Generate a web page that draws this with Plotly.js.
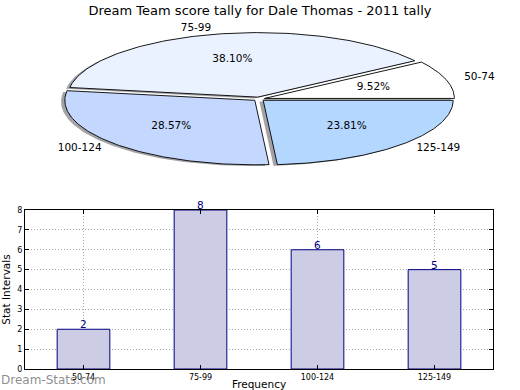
<!DOCTYPE html>
<html><head><meta charset="utf-8">
<script src="https://cdn.plot.ly/plotly-3.0.1.min.js"></script>
<style>html,body{margin:0;padding:0;background:#fff}#chart{width:520px;height:390px}</style>
</head><body><div id="chart"></div>
<script>
const categories = ["50-74", "75-99", "100-124", "125-149"];
const counts = [2, 8, 6, 5];
const sliceColors = ["#ffffff", "#ebf2ff", "#c4d8ff", "#b4d7ff"];
const titleText = "Dream Team score tally for Dale Thomas - 2011 tally";

const total = counts.reduce((a, b) => a + b, 0);
const explode = 0.03;
const traces = [];
const shadowTraces = [];
const sliceTraces = [];
const lblX = [], lblY = [], lblPos = [], pctX = [], pctY = [], pctT = [];
let start = 0;
counts.forEach((c, i) => {
  const frac = c / total;
  const a1 = start * 2 * Math.PI, a2 = (start + frac) * 2 * Math.PI;
  const mid = (a1 + a2) / 2;
  const ox = explode * Math.cos(mid), oy = explode * Math.sin(mid);
  const xs = [ox], ys = [oy];
  const n = 120;
  for (let k = 0; k <= n; k++) {
    const a = a1 + (a2 - a1) * k / n;
    xs.push(ox + Math.cos(a)); ys.push(oy + Math.sin(a));
  }
  xs.push(ox); ys.push(oy);
  shadowTraces.push({type: 'scatter', mode: 'lines', x: xs.map(v => v - 0.02), y: ys.map(v => v - 0.02),
    fill: 'toself', fillcolor: 'rgba(70,70,80,0.5)', line: {width: 0}, xaxis: 'x2', yaxis: 'y2', hoverinfo: 'skip'});
  sliceTraces.push({type: 'scatter', mode: 'lines', x: xs, y: ys, fill: 'toself', fillcolor: sliceColors[i],
    line: {color: '#000', width: 0.9}, xaxis: 'x2', yaxis: 'y2', hoverinfo: 'skip'});
  lblX.push(ox + 1.1 * Math.cos(mid)); lblY.push(oy + 1.1 * Math.sin(mid));
  lblPos.push(Math.cos(mid) < 0 ? 'middle left' : 'middle right');
  pctX.push(ox + 0.6 * Math.cos(mid)); pctY.push(oy + 0.6 * Math.sin(mid));
  pctT.push((frac * 100).toFixed(2) + '%');
  start += frac;
});
traces.push(...shadowTraces, ...sliceTraces);
traces.push({type: 'scatter', mode: 'text', x: lblX, y: lblY, text: categories, textposition: lblPos,
  textfont: {size: 10.5, color: '#000'}, xaxis: 'x2', yaxis: 'y2', hoverinfo: 'skip', cliponaxis: false});
traces.push({type: 'scatter', mode: 'text', x: pctX, y: pctY, text: pctT, textposition: 'middle center',
  textfont: {size: 10.5, color: '#000'}, xaxis: 'x2', yaxis: 'y2', hoverinfo: 'skip', cliponaxis: false});

traces.push({type: 'bar', x: categories, y: counts, width: 0.45,
  marker: {color: '#ccccE5', line: {color: '#000080', width: 1}},
  hoverinfo: 'skip'});

const valueAnnotations = categories.map((c, i) => ({
  text: String(counts[i]), xref: 'x', yref: 'y', x: c, y: counts[i], xanchor: 'center', yanchor: 'bottom',
  yshift: -3, showarrow: false, font: {size: 10.5, color: '#000080'}
}));

const cx = 259, cy = 99, rx = 190, ry = 64.5;
const dotted = '1px,2px';
const layout = {
  width: 520, height: 390, margin: {l: 0, r: 0, t: 0, b: 0},
  paper_bgcolor: '#fff', plot_bgcolor: 'rgba(0,0,0,0)', showlegend: false,
  font: {family: 'DejaVu Sans', color: '#000'},
  title: {text: titleText, x: 0.5, xanchor: 'center', y: 1 - 10 / 390, yanchor: 'middle', font: {size: 13, color: '#000'}},
  xaxis2: {domain: [0, 1], anchor: 'y2', range: [(0 - cx) / rx, (520 - cx) / rx], visible: false, fixedrange: true},
  yaxis2: {domain: [0.5, 1], anchor: 'x2', range: [(cy - 195) / ry, cy / ry], visible: false, fixedrange: true},
  xaxis: {domain: [25 / 520, 493 / 520], anchor: 'y', type: 'category', range: [-0.5, 3.5],
    showline: true, linecolor: '#000', linewidth: 1, mirror: 'ticks', ticks: 'inside', ticklen: 4, tickcolor: '#000',
    showgrid: true, gridcolor: '#a8a8a8', griddash: dotted, gridwidth: 1, tickfont: {size: 8},
    title: {text: 'Frequency', font: {size: 10.5}, standoff: 14}, automargin: false},
  yaxis: {domain: [(390 - 369) / 390, 180 / 390], anchor: 'x', range: [0, 8], dtick: 1,
    showline: true, linecolor: '#000', linewidth: 1, mirror: 'ticks', ticks: 'inside', ticklen: 4, tickcolor: '#000',
    showgrid: true, gridcolor: '#a8a8a8', griddash: dotted, gridwidth: 1, tickfont: {size: 8}, zeroline: false,
    title: {text: 'Stat Intervals', font: {size: 10.5}, standoff: 6}, automargin: false},
  annotations: valueAnnotations.concat([{text: 'Dream-Stats.com', xref: 'paper', yref: 'paper', x: -0.002, y: 10 / 390,
    xanchor: 'left', yanchor: 'middle', showarrow: false, font: {size: 12, color: 'rgba(120,120,120,0.85)'}}])
};
Plotly.newPlot('chart', traces, layout, {staticPlot: true, displayModeBar: false});
</script></body></html>
